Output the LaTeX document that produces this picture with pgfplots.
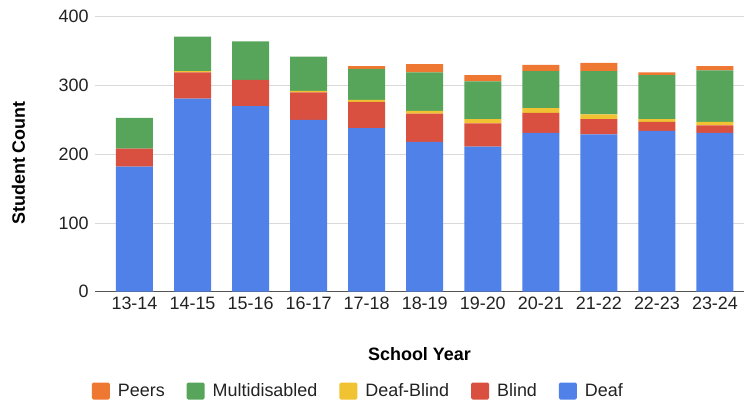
\documentclass[border=0pt]{standalone}
\usepackage{fontspec}
\setmainfont{Liberation Sans}
\usepackage{pgfplots}
\usepackage{pgfplotstable}
\pgfplotsset{compat=1.18}

\definecolor{cDeaf}{HTML}{4F81E8}
\definecolor{cBlind}{HTML}{D95040}
\definecolor{cDB}{HTML}{F1C232}
\definecolor{cMulti}{HTML}{57A55A}
\definecolor{cPeers}{HTML}{EE7732}
\definecolor{cGrid}{HTML}{D9D9D9}
\definecolor{cBase}{HTML}{555555}
\definecolor{cTick}{HTML}{222222}

% Enrolment by category and school year
\pgfplotstableread{
x year  deaf blind db multi peers
0 13-14 182  26    0  45    0
1 14-15 281  38    2  50    0
2 15-16 270  38    0  56    0
3 16-17 250  40    2  50    0
4 17-18 238  38    3  45    4
5 18-19 218  41    4  56   12
6 19-20 211  34    6  55    9
7 20-21 231  29    7  54    9
8 21-22 229  22    7  63   12
9 22-23 234  13    4  64    4
10 23-24 231 11    5  75    6
}\datatable

\begin{document}
\begin{tikzpicture}[font=\fontsize{18}{21}\selectfont]
\path[use as bounding box] (0,0) rectangle (744bp,403bp);
\begin{axis}[
  at={(95bp,111.3bp)}, anchor=south west,
  scale only axis, width=649bp, height=275bp,
  ybar stacked, bar width=37bp,
  xmin=-0.68, xmax=10.5, ymin=0, ymax=400,
  enlargelimits=false,
  xtick=data,
  xticklabels from table={\datatable}{year},
  ytick={100,200,300,400},
  extra y ticks={0},
  extra y tick style={grid style={draw=cBase, line width=1bp}},
  ymajorgrids,
  grid style={draw=cGrid, line width=0.8bp},
  axis line style={draw=none},
  major tick length=0pt,
  tick style={draw=none},
  /pgf/number format/assume math mode=true,
  ticklabel style={text=cTick},
  yticklabel style={xshift=-3bp},
  xticklabel style={yshift=-2bp},
  xlabel={\bfseries School Year},
  ylabel={\bfseries Student Count},
  xlabel style={at={(axis description cs:0.5,-0.2255)}, anchor=center},
  ylabel style={at={(axis description cs:-0.1179,0.468)}, anchor=center},
  reverse legend,
  legend columns=5,
  legend style={
    draw=none, fill=none, inner sep=0pt,
    at={(axis description cs:0,0)}, anchor=west,
    xshift=-3.3bp, yshift=-99.3bp,
    font=\fontsize{18}{21}\selectfont,
    nodes={text=cTick},
    /tikz/every even column/.append style={column sep=20bp},
  },
  legend image code/.code={%
    \fill[#1, rounded corners=1.5bp] (0bp,-8.5bp) rectangle (18bp,8.5bp);
    \path (24bp,0bp);
  },
]
\addplot[fill=cDeaf, draw=none] table[x=x, y=deaf] {\datatable};
\addlegendentry{Deaf}
\addplot[fill=cBlind, draw=none] table[x=x, y=blind] {\datatable};
\addlegendentry{Blind}
\addplot[fill=cDB, draw=none] table[x=x, y=db] {\datatable};
\addlegendentry{Deaf-Blind}
\addplot[fill=cMulti, draw=none] table[x=x, y=multi] {\datatable};
\addlegendentry{Multidisabled}
\addplot[fill=cPeers, draw=none] table[x=x, y=peers] {\datatable};
\addlegendentry{Peers}
\end{axis}
\end{tikzpicture}
\end{document}
